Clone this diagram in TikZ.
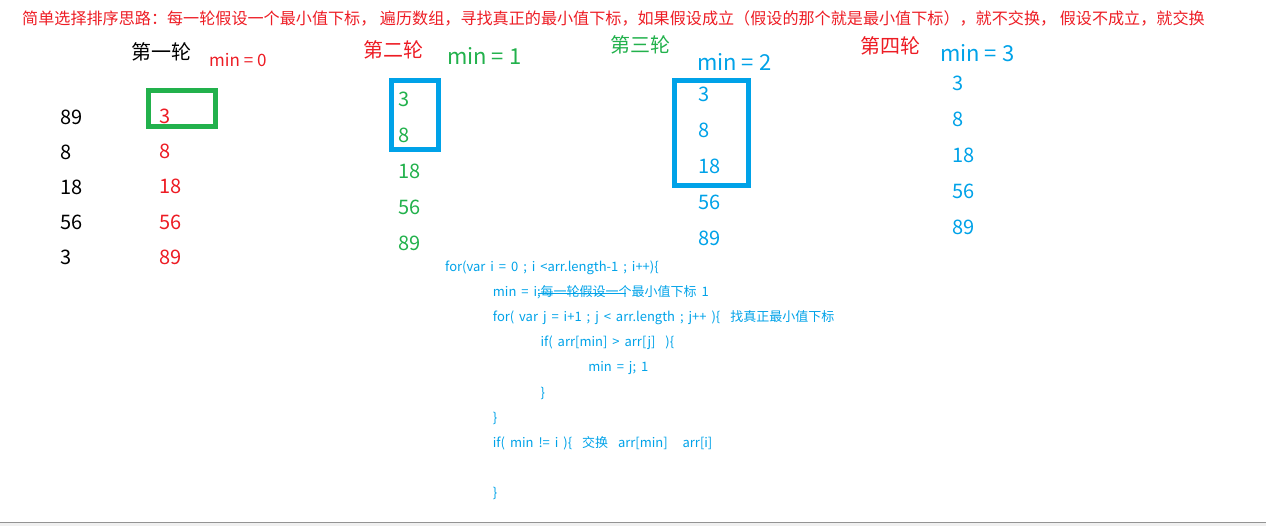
\documentclass[tikz,border=0pt]{standalone}
\usepackage{fontspec}
\setmainfont{Noto Sans CJK SC}
\newfontfamily\codefont[WordSpace=1.7]{Noto Sans CJK SC}
\usetikzlibrary{positioning}

\definecolor{sortred}{RGB}{237,28,36}
\definecolor{sortgreen}{RGB}{34,177,76}
\definecolor{sortblue}{RGB}{0,162,232}

\begin{document}
\begin{tikzpicture}[
        x=1pt, y=-1pt,
        every node/.style={inner sep=0pt, anchor=west},
        titletext/.style={font=\fontsize{16.1}{16}\selectfont, text=sortred},
        roundtext/.style={font=\fontsize{20}{20}\selectfont},
        mintext/.style={font=\fontsize{22}{22}\selectfont},
        numtext/.style={font=\fontsize{20}{20}\selectfont},
        codetext/.style={font=\codefont\fontsize{13}{13}\selectfont, text=sortblue, text height=9pt, text depth=3pt},
        markbox/.style={line width=5pt}
    ]

        % === FRAME ===
        \useasboundingbox (0,0) rectangle (1266,526);
        \fill[gray!12] (0,523) rectangle (1266,526);
        \draw[gray!85, line width=1.2pt] (0,522.5) -- (1266,522.5);

        % === 1. TITLE ===
        \node[titletext] (title) at (22,18)
            {简单选择排序思路：每一轮假设一个最小值下标， 遍历数组，寻找真正的最小值下标，如果假设成立（假设的那个就是最小值下标），就不交换， 假设不成立，就交换};

        % === 2. ROUND HEADERS ===
        \node[roundtext] (r1) at (131,52) {第一轮};
        \node[font=\fontsize{17}{17}\selectfont, text=sortred] (m1) at (209,60) {min = 0};
        \node[roundtext, text=sortred] (r2) at (363,50) {第二轮};
        \node[mintext, text=sortgreen] (m2) at (447,56) {min = 1};
        \node[roundtext, text=sortgreen] (r3) at (610,45) {第三轮};
        \node[mintext, text=sortblue] (m3) at (697,62) {min = 2};
        \node[roundtext, text=sortred] (r4) at (860,46) {第四轮};
        \node[mintext, text=sortblue] (m4) at (940,53) {min = 3};

        % === 3. ARRAY COLUMNS ===
        \foreach \v [count=\k] in {89,8,18,56,3}
            \node[numtext] (a\k) at (60, 82+35*\k) {\v};
        \foreach \v [count=\k] in {3,8,18,56,89}
            \node[numtext, text=sortred] (b\k) at (159, 80.6+35.4*\k) {\v};
        \foreach \v [count=\k] in {3,8,18,56,89}
            \node[numtext, text=sortgreen] (c\k) at (398, 63+36*\k) {\v};
        \foreach \v [count=\k] in {3,8,18,56,89}
            \node[numtext, text=sortblue] (d\k) at (698, 58+36*\k) {\v};
        \foreach \v [count=\k] in {3,8,18,56,89}
            \node[numtext, text=sortblue] (e\k) at (952, 47+36*\k) {\v};

        % sorted part boxes
        \draw[markbox, sortgreen] (148.5,90.5) rectangle (215,126.5);
        \draw[markbox, sortblue] (391.5,80.5) rectangle (438,150);
        \draw[markbox, sortblue] (674.5,80.5) rectangle (748.5,186);

        % === 4. CODE ===
        \def\codeX{445}
        \def\codeIn{47.7}
        \def\codeY{269}
        \def\codeDy{25}
        \node[codetext] (l1) at (\codeX, \codeY) {for(var i = 0 ; i <arr.length-1 ; i++)\{};
        \node[codetext] (l2) at (\codeX+\codeIn, \codeY+\codeDy) {min = i;每一轮假设一个最小值下标 1};
        \node[codetext] (l3) at (\codeX+\codeIn, \codeY+2*\codeDy) {for( var j = i+1 ; j < arr.length ; j++ )\{\ \ 找真正最小值下标};
        \node[codetext] (l4) at (\codeX+2*\codeIn, \codeY+3*\codeDy) {if( arr[min] > arr[j]\ \ )\{};
        \node[codetext] (l5) at (\codeX+3*\codeIn, \codeY+4*\codeDy) {min = j; 1};
        \node[codetext] (l6) at (\codeX+2*\codeIn, \codeY+5*\codeDy) {\}};
        \node[codetext] (l7) at (\codeX+\codeIn, \codeY+6*\codeDy) {\}};
        \node[codetext] (l8) at (\codeX+\codeIn, \codeY+7*\codeDy) {if( min != i )\{\ \ 交换\ \ arr[min]\ \ \ arr[i]};
        \node[codetext] (l9) at (\codeX+\codeIn, \codeY+9*\codeDy) {\}};

        % crossed-out comment
        \draw[sortblue, line width=0.8pt] (538,293.5) -- (626,293.5);

    \end{tikzpicture}
\end{document}
